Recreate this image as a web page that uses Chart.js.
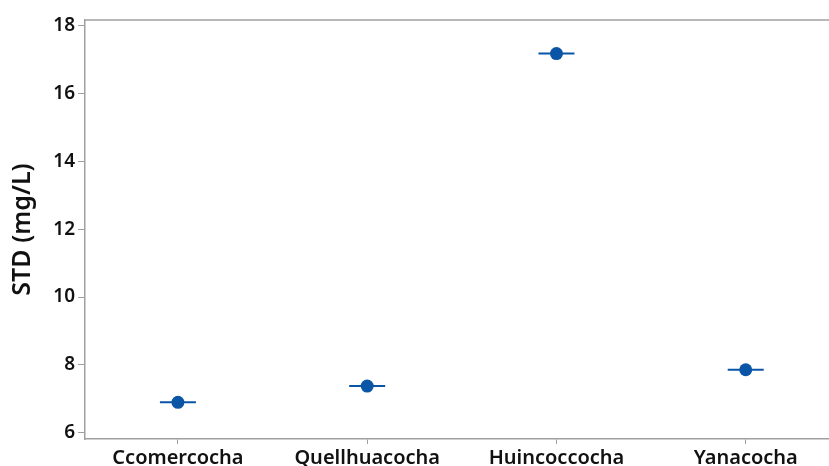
<!DOCTYPE html>
<html>
<head>
<meta charset="utf-8">
<script src="https://cdn.jsdelivr.net/npm/chart.js@4"></script>
<style>
  html, body { margin: 0; padding: 0; background: #fff; overflow: hidden; }
  #wrap { width: 829px; height: 466px; }
</style>
</head>
<body>
<div id="wrap"><canvas id="c" width="829" height="466"></canvas></div>
<script>
// Lakes and mean STD (mg/L)
const lakes = ['Ccomercocha', 'Quellhuacocha', 'Huincoccocha', 'Yanacocha'];
const stdMean = [6.90, 7.38, 17.17, 7.86];
const yTickValues = [6, 8, 10, 12, 14, 16, 18];

const blue = '#0A55A6';
const axisGray = '#a0a0a0';
const font = { family: "'Noto Sans', 'Open Sans', sans-serif", weight: '600' };

const points = lakes.map((name, i) => ({ x: i, y: stdMean[i] }));

// frame line along the top of the plot area
const topFrame = {
  id: 'topFrame',
  afterDraw(chart) {
    const { ctx, chartArea } = chart;
    ctx.save();
    ctx.strokeStyle = axisGray;
    ctx.lineWidth = 1.5;
    ctx.beginPath();
    ctx.moveTo(chartArea.left, chartArea.top);
    ctx.lineTo(chartArea.right + 5, chartArea.top);
    ctx.stroke();
    ctx.restore();
  }
};

new Chart(document.getElementById('c'), {
  type: 'scatter',
  data: {
    datasets: [
      {
        label: 'interval',
        data: points,
        pointStyle: 'line',
        pointRadius: 18,
        pointHoverRadius: 18,
        borderColor: blue,
        borderWidth: 2,
        backgroundColor: blue
      },
      {
        label: 'mean',
        data: points,
        pointStyle: 'circle',
        pointRadius: 6.5,
        pointHoverRadius: 6.5,
        borderWidth: 0,
        backgroundColor: blue,
        borderColor: blue
      }
    ]
  },
  options: {
    responsive: false,
    animation: false,
    layout: { autoPadding: false, padding: { top: 20, right: 0, left: 0, bottom: 0 } },
    plugins: { legend: { display: false }, tooltip: { enabled: false } },
    scales: {
      x: {
        type: 'linear',
        min: -0.491,
        max: 3.44,
        afterBuildTicks: s => { s.ticks = lakes.map((_, i) => ({ value: i })); },
        afterFit: s => { s.height = 27; s.paddingLeft = 0; s.paddingRight = 0; },
        ticks: {
          autoSkip: false,
          maxRotation: 0,
          padding: 2,
          color: '#111',
          font: { ...font, size: 20 },
          callback: v => lakes[v]
        },
        grid: { drawOnChartArea: false, tickLength: 5, color: axisGray, lineWidth: 1 },
        border: { color: axisGray, width: 1.5 }
      },
      y: {
        min: 5.82,
        max: 18.16,
        afterBuildTicks: s => { s.ticks = yTickValues.map(v => ({ value: v })); },
        afterFit: s => { s.width = 85; s.paddingTop = 0; s.paddingBottom = 0; },
        ticks: {
          padding: 3,
          color: '#111',
          font: { ...font, size: 19 }
        },
        grid: { drawOnChartArea: false, tickLength: 7, color: axisGray, lineWidth: 1 },
        border: { color: axisGray, width: 1.5 },
        title: {
          display: true,
          text: 'STD (mg/L)',
          color: '#111',
          font: { ...font, size: 25 },
          padding: { top: 8, bottom: 0 }
        }
      }
    }
  },
  plugins: [topFrame]
});
</script>
</body>
</html>
